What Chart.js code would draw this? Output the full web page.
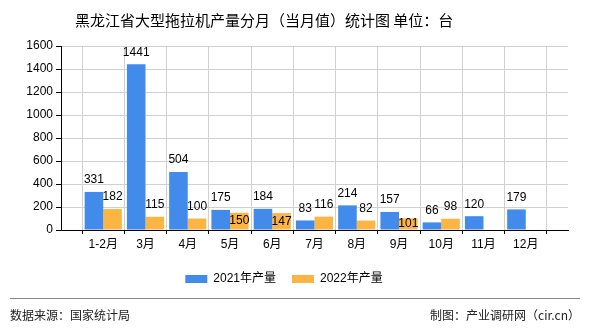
<!DOCTYPE html>
<html>
<head>
<meta charset="utf-8">
<script src="https://cdn.jsdelivr.net/npm/chart.js@4/dist/chart.umd.min.js"></script>
<style>
  body { margin: 0; background: #fff; }
  #wrap { position: relative; width: 590px; height: 330px; font-family: "Noto Sans CJK SC", sans-serif; }
  #chart { position: absolute; left: 0; top: 0; }
  .title { position: absolute; left: 75px; top: 9px; font-size: 15px; color: #000; white-space: nowrap; }
  .rule { position: absolute; left: 10px; top: 298px; width: 570px; height: 0; border-top: 1px solid #888; }
  .src { position: absolute; left: 10px; top: 306px; font-size: 12px; color: #222; }
  .maker { position: absolute; right: 10px; top: 306px; font-size: 12px; color: #222; }
</style>
</head>
<body>
<div id="wrap">
  <canvas id="chart" width="590" height="330"></canvas>
  <div class="title">黑龙江省大型拖拉机产量分月（当月值）统计图 单位：台</div>
  <div class="rule"></div>
  <div class="src">数据来源：国家统计局</div>
  <div class="maker">制图：产业调研网（cir.cn）</div>
</div>
<script>
// Months and monthly output (units)
const months = ['1-2月', '3月', '4月', '5月', '6月', '7月', '8月', '9月', '10月', '11月', '12月'];
const output2021 = [331, 1441, 504, 175, 184, 83, 214, 157, 66, 120, 179];
const output2022 = [182, 115, 100, 150, 147, 116, 82, 101, 98, null, null];
const yTicks = [0, 200, 400, 600, 800, 1000, 1200, 1400, 1600];

const FONT = '"Liberation Sans", "Noto Sans CJK SC", sans-serif';

// empty slots at both ends give the axis its side margins
const pad = arr => [null, ...arr, null];

// Value labels: above the bar, or inside it when it would collide with the neighbour
const valueLabels = {
    id: 'valueLabels',
    afterDatasetsDraw(chart) {
        const ctx = chart.ctx;
        const yScale = chart.scales.y;
        ctx.save();
        ctx.font = '12px ' + FONT;
        ctx.fillStyle = '#000';
        ctx.textAlign = 'center';
        ctx.textBaseline = 'middle';
        chart.data.datasets.forEach((ds, di) => {
            const meta = chart.getDatasetMeta(di);
            ds.data.forEach((v, i) => {
                if (v === null) return;
                const bar = meta.data[i];
                let y = bar.y - 12;
                if (di === 1) {
                    const other = chart.data.datasets[0].data[i];
                    if (other !== null && v < other &&
                        yScale.getPixelForValue(v) - yScale.getPixelForValue(other) < 14) {
                        y = (bar.y + bar.base) / 2;
                    }
                }
                ctx.fillText(String(v), bar.x, y);
            });
        });
        ctx.restore();
    }
};

new Chart(document.getElementById('chart'), {
    type: 'bar',
    data: {
        labels: pad(months).map(l => l || ''),
        datasets: [{
            label: '2021年产量',
            data: pad(output2021),
            backgroundColor: '#428bea',
            categoryPercentage: 0.88,
            barPercentage: 1
        }, {
            label: '2022年产量',
            data: pad(output2022),
            backgroundColor: '#fcb442',
            categoryPercentage: 0.88,
            barPercentage: 1
        }]
    },
    options: {
        responsive: false,
        animation: false,
        layout: { padding: { left: 0, right: 22, top: 46, bottom: 35 } },
        plugins: {
            legend: {
                position: 'bottom',
                labels: {
                    boxWidth: 22,
                    boxHeight: 8,
                    padding: 16,
                    color: '#000',
                    font: { size: 12, family: FONT }
                }
            },
            tooltip: { enabled: false }
        },
        scales: {
            x: {
                offset: false,
                grid: { color: '#d0d0d0', tickLength: 4, tickColor: '#000' },
                border: { color: '#000' },
                ticks: { color: '#000', padding: 3, maxRotation: 0, autoSkip: false, font: { size: 12, family: FONT } },
                afterFit: s => { s.height = 27; }
            },
            y: {
                min: 0,
                max: 1600,
                afterBuildTicks: s => { s.ticks = yTicks.map(v => ({ value: v })); },
                grid: { color: '#d0d0d0', tickLength: 5, tickColor: '#000' },
                border: { color: '#000' },
                ticks: { color: '#000', padding: 3, font: { size: 12, family: FONT }, callback: v => String(v) },
                afterFit: s => { s.width = 61; }
            }
        }
    },
    plugins: [valueLabels]
});
</script>
</body>
</html>
